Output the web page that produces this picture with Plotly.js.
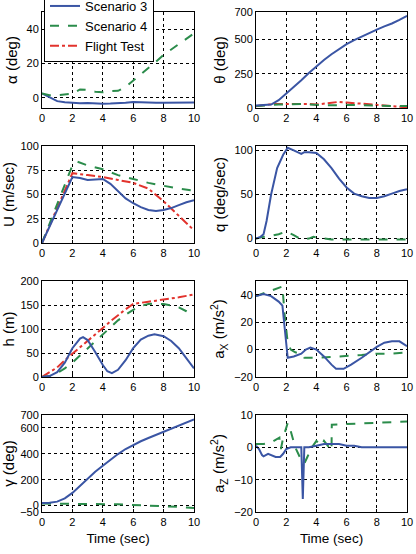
<!DOCTYPE html>
<html><head><meta charset="utf-8">
<script src="https://cdn.plot.ly/plotly-3.0.1.min.js"></script>
<style>html,body{margin:0;padding:0;background:#fff;overflow:hidden;}#chart{width:416px;height:564px;margin-top:-10px;}</style>
</head><body><div id="chart"></div>
<script>
const seriesNames = ["Scenario 3", "Scenario 4", "Flight Test"];
const xTicks = [0, 2, 4, 6, 8, 10];
const tHalf = [0,0.5,1,1.5,2,2.5,3,3.5,4,4.5,5,5.5,6,6.5,7,7.5,8,8.5,9,9.5,10];

// alpha (deg)
const alphaS3 = [2.5,0,-2,-2.7,-3,-3.2,-3.1,-3.4,-3.5,-3.4,-3.3,-3,-2.5,-2.8,-3,-3,-3,-2.9,-2.8,-2.8,-2.8];
const alphaS4 = [2.5,1.5,1.5,2,2.3,4.8,4.5,3.5,3.2,3.8,4,6.3,10,13.5,17,21,25,28,31,34.5,37.5];

// theta (deg)
const thetaS3 = [18,20,25,57,103,150,202,255,305,350,392,430,466,495,522,548,572,595,616,643,672];
const thetaS4 = [15,20,25,25,25,28,30,25,20,20,20,22,25,22,20,18,15,15,15,15,15];
const thetaFT = [12,20,28,30,30,33,35,30,25,32,40,45,40,35,30,28,25,20,15,10,5];

// U (m/sec)
const US3 = [0,17,34,51,68,67,65,65.5,66,61,53,46,41,37,34,33,34,36,39,42,44];
const tU4 = [0,0.5,1,1.5,2,2.3,3,4,5,6,7,8,9,10];
const US4 = [0,20,41,62,80,84,80,76,70,66,62,59,56,54];
const tUFT = [0,0.5,1,1.5,2,3,4,5,6,7,8,9,10];
const UFT = [0,18,36,54,72,70,68,65,62,56,43,28,13];

// q (deg/sec)
const tQ3 = [0,0.3,0.5,0.7,1,1.4,1.8,2.1,2.5,3,3.2,3.5,4,4.5,5,5.5,6,6.5,7,7.5,8,8.5,9,9.5,10];
const qS3 = [0,2,5,20,50,80,95,103,100,96,98,98,97,90,80,68,58,51,48,46,46,48,51,54,56];
const tQ4 = [0,0.5,1,1.5,2,2.5,3,3.5,3.8,4.5,5,6,7,8,9,10];
const qS4 = [0,2,3,5,8,4,-1,0,2,0,-1,-1,-1,-1,-1,-1];

// h (m)
const tH3 = [0,0.5,1,1.5,2,2.5,2.7,3,3.5,4,4.3,4.6,5,5.5,6,6.5,7,7.4,8,8.5,9,9.5,10];
const hS3 = [0,2,10,30,60,80,83,77,52,25,12,8,15,35,60,78,86,89,85,75,60,40,18];
const hS4 = [0,2,8,18,30,45,60,75,90,105,118,130,140,148,152,153,152,149,145,137,127];
const hFT = [0,10,20,35,48,63,76,89,102,116,129,141,152,155,157,159,161,164,166,169,172];

// a_X (m/s^2)
const tAx3 = [0,0.5,1,1.5,1.75,1.9,2.0,2.1,2.5,3,3.3,3.6,4,4.5,5,5.3,5.8,6.3,7,7.5,8,8.5,9,9.5,10];
const axS3 = [39,40.5,39,35,32,15,0,-6,-5,-3,0,1.5,0,-5,-11,-14,-14,-11,-6,-2,2,5,6,6,2.5];
const tAx4 = [0,0.5,1,1.6,1.75,1.9,2.1,2.3,2.6,3,3.2,4,5,6,7,8,9,10];
const axS4 = [39,41,43,45,46,25,5,0,-2,-3,-6,-6,-5.5,-5,-4,-3,-3,-2];

// gamma (deg)
const gammaS3 = [20,22,30,55,98,155,212,262,308,355,398,437,470,497,522,546,570,592,614,640,666];
const gammaS4 = [15,15,15,15,15,15,15,15,15,12,10,7,5,2,0,-3,-5,-8,-10,-15,-20];

// a_Z (m/s^2)
const tAz3 = [0,0.2,0.4,0.5,0.8,1.0,1.3,1.6,1.8,2.0,2.3,3.0,3.1,3.2,3.5,4,4.5,5,5.5,6,6.5,7,8,9,10];
const azS3 = [0.5,-0.5,-2.4,-2.8,-2,-2.5,-3,-3,-2,-0.5,0,0,-16,0,0,0.5,1,1,1,0.5,0.5,0,0,0,0];
const tAz4 = [0,0.5,1,1.55,1.6,1.65,1.8,2.1,2.3,2.6,2.9,3.2,3.4,3.7,4,4.3,4.5,4.8,5,5.02,6,7,8,9,10];
const azS4 = [1,1,1.5,3,0,-0.5,3,7.5,5,0,-3,-5,-3,0,2,0.5,2,0,-1,7,7.2,7.5,7.5,7.8,8];

const colors = ["#3a55a4", "#2b8c4b", "#e2332d"];
const dashes = ["solid", "dash", "dashdot"];

const traces = [];
function add(k, x, y, s, legend) {
  traces.push({
    x: x, y: y, type: "scatter", mode: "lines",
    xaxis: "x" + (k === 1 ? "" : k), yaxis: "y" + (k === 1 ? "" : k),
    name: seriesNames[s], showlegend: !!legend,
    line: {color: colors[s], width: 2, dash: dashes[s]},
    hoverinfo: "skip"
  });
}
add(1, tHalf, alphaS3, 0, true);
add(1, tHalf, alphaS4, 1, true);
add(2, tHalf, thetaFT, 2, true);
add(2, tHalf, thetaS4, 1);
add(2, tHalf, thetaS3, 0);
add(3, tUFT, UFT, 2);
add(3, tU4, US4, 1);
add(3, tHalf, US3, 0);
add(4, tQ4, qS4, 1);
add(4, tQ3, qS3, 0);
add(5, tHalf, hFT, 2);
add(5, tHalf, hS4, 1);
add(5, tH3, hS3, 0);
add(6, tAx4, axS4, 1);
add(6, tAx3, axS3, 0);
add(7, tHalf, gammaS4, 1);
add(7, tHalf, gammaS3, 0);
add(8, tAz4, azS4, 1);
add(8, tAz3, azS3, 0);

// figure is 10px taller than the window and shifted up, so the legend top is cut like the reference
const W = 416, OFF = 10, H = 554 + OFF;
const py = p => 1 - (p + OFF) / H;
const colDom = [[42 / W, 194 / W], [256 / W, 407 / W]];
const rowDom = [[py(108), py(12)], [py(243), py(146)], [py(377), py(281)], [py(512), py(415)]];

const yTitles = ["α (deg)", "θ (deg)", "U (m/sec)", "q (deg/sec)", "h (m)", "a<sub>X</sub> (m/s<sup>2</sup>)", "γ (deg)", "a<sub>Z</sub> (m/s<sup>2</sup>)"];
const yRanges = [[-6, 50], [0, 700], [0, 100], [-5, 105], [0, 200], [-20, 50], [-50, 700], [-20, 10]];
const yTickVals = [[0, 20, 40], [0, 250, 500, 700], [0, 25, 50, 75, 100], [0, 50, 100], [0, 50, 100, 150, 200], [-20, 0, 20, 40], [-50, 0, 200, 400, 600, 700], [-20, -10, 0, 10]];
const xTitle = "Time (sec)";

const axStyle = {
  showgrid: true, gridcolor: "#000", griddash: "dot", gridwidth: 1,
  showline: true, linecolor: "#000", linewidth: 1, mirror: true,
  ticks: "inside", ticklen: 3, tickcolor: "#000",
  zeroline: false, tickfont: {size: 11, color: "#000"}, fixedrange: true
};

const layout = {
  width: W, height: H,
  margin: {l: 0, r: 0, t: 0, b: 0},
  paper_bgcolor: "#fff", plot_bgcolor: "#fff",
  font: {family: "Liberation Sans, Arial, sans-serif", color: "#000"},
  showlegend: true,
  legend: {
    x: 44 / W, xanchor: "left", y: 1, yanchor: "top",
    bgcolor: "#fff", bordercolor: "#000", borderwidth: 1,
    font: {size: 13, color: "#000"}, traceorder: "normal", tracegroupgap: 0
  }
};

for (let k = 1; k <= 8; k++) {
  const col = (k - 1) % 2, row = Math.floor((k - 1) / 2);
  const sfx = k === 1 ? "" : k;
  const xa = Object.assign({}, axStyle, {
    domain: colDom[col], anchor: "y" + sfx, range: [0, 10], tickvals: xTicks
  });
  if (row === 3) xa.title = {text: xTitle, font: {size: 13.5}, standoff: 6};
  layout["xaxis" + sfx] = xa;
  layout["yaxis" + sfx] = Object.assign({}, axStyle, {
    domain: rowDom[row], anchor: "x" + sfx, range: yRanges[k - 1], tickvals: yTickVals[k - 1],
    title: {text: yTitles[k - 1], font: {size: 15}, standoff: 5}
  });
}

Plotly.newPlot("chart", traces, layout, {staticPlot: true, displayModeBar: false});
</script>
</body></html>
